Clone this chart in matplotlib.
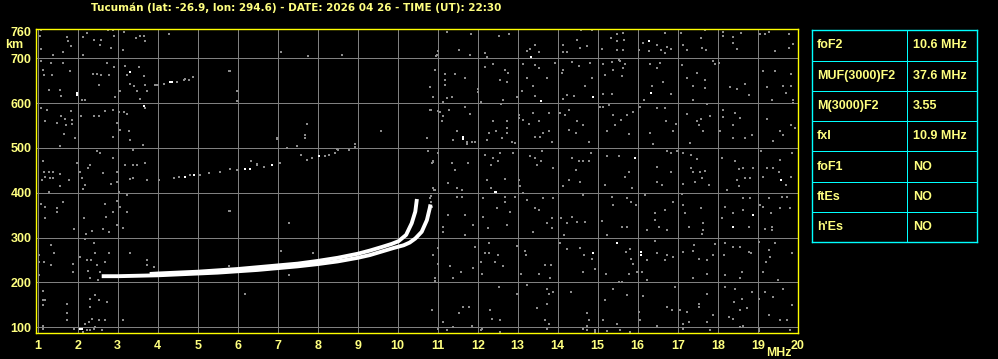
import matplotlib
matplotlib.use("Agg")
import matplotlib.pyplot as plt

# --- header / table text ---
title = "Tucumán (lat: -26.9, lon: 294.6) - DATE: 2026 04 26 - TIME (UT): 22:30"
param_names = ["foF2", "MUF(3000)F2", "M(3000)F2", "fxI", "foF1", "ftEs", "h'Es"]
param_values = ["10.6 MHz", "37.6 MHz", "3.55", "10.9 MHz", "NO", "NO", "NO"]

freq_ticks = list(range(1, 21))
height_ticks = [100, 200, 300, 400, 500, 600, 700, 760]

# --- F2 trace, ordinary and extraordinary (MHz, km) ---
trace_o_freq = [3.8, 4.0, 4.5, 5.0, 5.5, 6.0, 6.5, 7.0, 7.5, 8.0, 8.5, 9.0, 9.3, 9.6,
                9.85, 10.02, 10.21, 10.35, 10.44, 10.48]
trace_o_height = [219, 220, 222, 224, 227, 230, 234, 238, 242, 248, 255, 264, 271, 279,
                  286, 292, 306, 332, 358, 386]
trace_x_freq = [2.6, 3.0, 3.5, 4.0, 4.5, 5.0, 5.5, 6.0, 6.5, 7.0, 7.5, 8.0, 8.5, 9.0,
                9.3, 9.6, 9.9, 10.15, 10.3, 10.44, 10.6, 10.73, 10.8, 10.82]
trace_x_height = [214, 214, 215, 216, 218, 220, 222, 225, 228, 232, 236, 241, 247, 255,
                  261, 269, 277, 283, 289, 298, 313, 339, 365, 374]

# --- multiple-hop echoes ---
echo_2f = [(4.4, 434), (4.52, 436), (4.81, 440), (5.06, 440), (5.27, 445), (5.56, 447),
           (5.81, 453), (5.99, 451), (6.33, 470), (6.48, 462), (6.48, 464), (6.65, 458),
           (7.05, 466), (7.23, 499), (7.48, 505), (7.58, 484), (7.73, 473), (7.85, 478),
           (8.19, 482), (8.29, 484), (8.44, 488), (8.52, 496), (8.79, 496), (8.94, 508),
           (8.94, 501), (7.69, 523), (6.98, 522)]
echo_2f_bright = [(4.69, 436), (4.9, 440), (6.19, 453), (6.3, 453), (6.85, 462), (8.04, 481)]
echo_3f = [(3.96, 641), (4.0, 641), (4.15, 643), (4.48, 648), (4.65, 652), (4.77, 652),
           (4.88, 657), (4.69, 653)]
echo_3f_bright = [(4.31, 648), (4.36, 648)]

# --- background noise (MHz, km) ---
noise_left = [
    (1.08, 762), (1.06, 749), (1.08, 721), (1.38, 706), (1.63, 714), (1.73, 747), (1.75, 739),
    (1.83, 727), (2.13, 706), (2.23, 756), (2.13, 747), (2.41, 741), (2.58, 741), (2.55, 729),
    (2.75, 762), (2.88, 762), (2.83, 723), (2.9, 749), (3.15, 759), (3.13, 719), (3.46, 744),
    (3.55, 749), (3.66, 749), (3.69, 739), (4.27, 753),
    (1.08, 693), (1.13, 674), (1.15, 662), (1.33, 689), (1.35, 662), (1.63, 689), (1.8, 671),
    (1.27, 630), (1.56, 630), (1.58, 615), (2.1, 607), (2.19, 607), (2.38, 665), (2.48, 665),
    (2.58, 662), (2.79, 662), (2.52, 641), (2.73, 689), (2.9, 680), (2.94, 613), (3.05, 626),
    (3.19, 682), (3.23, 662), (3.3, 642), (3.41, 637), (3.52, 680), (3.48, 627), (3.65, 660),
    (3.69, 641), (3.73, 627), (3.55, 610), (3.94, 641),
    (1.08, 590), (1.19, 559), (1.23, 585), (1.58, 572), (1.69, 565), (1.71, 551), (1.83, 583),
    (1.85, 563), (1.85, 553), (1.48, 555), (1.65, 531), (1.55, 505), (1.94, 522), (2.08, 572),
    (2.41, 572), (2.52, 572), (2.69, 583), (2.88, 585), (2.88, 525), (3.02, 580), (3.15, 580),
    (2.98, 555), (3.05, 540), (3.23, 575), (3.27, 537), (3.3, 518), (3.38, 496), (3.63, 507),
    (3.69, 589),
    (1.13, 470), (1.16, 447), (1.27, 447), (1.38, 447), (1.1, 429), (1.19, 436), (1.3, 432),
    (1.38, 432), (1.55, 441), (1.55, 414), (1.27, 402), (1.77, 429), (1.98, 466), (2.05, 447),
    (2.1, 432), (2.19, 417), (2.13, 408), (2.25, 455), (2.3, 461), (2.48, 492), (2.55, 488),
    (2.63, 443), (2.88, 477), (2.83, 419), (2.98, 447), (2.98, 425), (3.19, 462), (3.31, 431),
    (3.38, 432), (3.38, 462), (3.48, 462), (3.69, 466), (3.73, 429), (4.02, 429), (3.02, 402),
    (1.08, 376), (1.19, 369), (1.19, 343), (1.48, 367), (1.63, 379), (1.48, 358), (1.9, 319),
    (2.16, 343), (2.35, 315), (2.21, 307), (2.69, 376), (2.71, 347), (2.63, 319), (2.77, 313),
    (2.88, 356), (2.98, 382), (2.98, 328), (3.06, 369), (3.13, 322), (3.23, 395), (3.23, 356),
    (1.02, 261), (1.02, 245), (1.02, 216), (1.33, 283), (1.41, 265), (1.15, 246), (1.33, 240),
    (1.88, 242), (1.88, 224), (2.06, 257), (2.19, 298), (2.23, 250), (2.33, 250), (2.25, 225),
    (2.4, 287), (2.44, 265), (2.48, 239), (2.56, 224), (2.69, 245), (2.79, 265), (2.31, 209),
    (2.5, 205), (3.31, 265), (3.73, 250), (3.73, 240), (3.9, 235),
    (1.13, 180), (1.13, 160), (1.19, 160), (1.13, 149), (1.73, 153), (1.73, 131), (1.73, 116),
    (1.9, 97), (2.19, 108), (2.27, 112), (2.35, 119), (2.31, 163), (2.31, 145), (2.44, 172),
    (2.52, 160), (2.73, 157), (2.44, 101), (2.3, 93), (2.52, 116), (2.69, 116), (3.13, 116),
    (1.13, 104), (1.13, 97), (2.23, 93), (2.13, 90), (2.4, 96), (2.6, 94),
]
noise_mid = [
    (5.8, 671), (5.98, 626), (5.98, 604), (5.8, 360), (6.19, 175), (5.77, 360), (7.29, 333),
    (9.59, 537), (8.94, 509), (7.69, 529), (7.73, 554), (6.98, 520), (8.48, 497), (7.09, 271),
    (7.88, 266), (7.29, 216), (5.77, 236), (5.77, 226), (7.09, 713), (7.77, 704), (8.62, 708),
    (5.78, 671), (10.73, 523), (10.87, 467), (10.9, 406), (10.84, 393), (10.94, 209),
    (10.98, 708), (11.02, 717), (11.19, 665), (11.19, 652), (10.81, 635), (10.88, 613),
    (11.13, 602), (10.84, 585), (11.06, 581), (10.88, 468), (10.77, 492), (10.84, 380),
]
noise_right = [
    (11.23, 759), (11.54, 718), (11.84, 753), (11.81, 706), (11.02, 717), (10.96, 704),
    (12.19, 712), (12.54, 749), (12.79, 754), (12.23, 702), (13.31, 721), (13.23, 715),
    (13.52, 713), (13.44, 730), (14.14, 730), (14.23, 714), (14.48, 741), (14.59, 762),
    (14.73, 727), (14.85, 762), (14.56, 723), (14.13, 713), (15.33, 744), (15.48, 753),
    (15.48, 738), (15.64, 756), (15.66, 741), (15.49, 718), (15.62, 718), (15.1, 721),
    (16.04, 719), (16.14, 734), (16.28, 715), (16.49, 730), (16.58, 719), (16.69, 756),
    (16.74, 724), (16.83, 721), (16.67, 712), (17.09, 756), (17.14, 729), (17.23, 719),
    (17.58, 745), (17.69, 762), (17.6, 723), (17.7, 719), (18.14, 759), (18.13, 749),
    (18.38, 747), (18.48, 721), (18.59, 757), (18.39, 734), (19.06, 753), (19.29, 758),
    (19.44, 717), (19.79, 755), (19.79, 723), (19.89, 732), (19.19, 754),
    (10.94, 674), (11.17, 665), (11.19, 641), (11.44, 665), (11.69, 656), (11.23, 611),
    (11.35, 613), (10.89, 613), (10.81, 635), (12.02, 631), (12.02, 624), (12.19, 680),
    (12.38, 687), (12.69, 674), (12.77, 667), (12.74, 648), (12.56, 652), (12.98, 613),
    (12.64, 607), (13.13, 686), (13.42, 684), (13.54, 678), (13.23, 656), (13.38, 639),
    (13.1, 626), (13.44, 616), (13.73, 656), (13.94, 689), (14.1, 667), (14.14, 674),
    (14.35, 692), (14.52, 682), (14.69, 637), (14.85, 656), (14.81, 689), (14.23, 619),
    (14.41, 616), (14.14, 610), (15.13, 686), (15.19, 663), (15.35, 692), (15.39, 674),
    (15.56, 693), (15.63, 678), (15.69, 686), (15.6, 660), (15.13, 620), (15.35, 620),
    (15.52, 697), (16.31, 687), (16.35, 637), (16.49, 678), (16.62, 648), (16.56, 689),
    (16.83, 620), (16.16, 607), (17.11, 684), (17.23, 656), (17.38, 637), (17.48, 667),
    (17.69, 652), (17.69, 633), (17.88, 693), (17.94, 686), (17.39, 607), (18.31, 635),
    (18.48, 631), (18.67, 642), (18.79, 617), (18.04, 689), (19.14, 671), (19.44, 671),
    (19.23, 635), (19.64, 637), (19.83, 665), (19.84, 639), (19.71, 622), (19.35, 607),
    (19.89, 607),
    (10.81, 585), (11.02, 583), (11.13, 572), (11.29, 585), (11.1, 559), (11.48, 537),
    (11.73, 514), (11.73, 508), (11.85, 513), (11.94, 514), (11.39, 518), (11.69, 592),
    (11.81, 575), (12.09, 602), (12.59, 598), (12.38, 559), (12.46, 537), (12.29, 533),
    (12.73, 544), (12.74, 533), (12.6, 522), (12.85, 514), (12.23, 518), (12.73, 559),
    (12.94, 511), (13.04, 574), (13.04, 567), (13.14, 563), (13.29, 553), (13.39, 578),
    (13.54, 559), (13.64, 533), (13.56, 525), (13.77, 538), (13.77, 578), (13.44, 525),
    (13.85, 514), (14.06, 578), (14.19, 574), (14.29, 585), (14.46, 533), (14.64, 550),
    (14.79, 514), (14.27, 540), (14.48, 559), (15.06, 592), (15.14, 592), (15.29, 596),
    (15.44, 551), (15.58, 563), (15.74, 574), (15.89, 580), (15.38, 574), (15.79, 531),
    (15.23, 537), (16.06, 592), (16.31, 533), (16.49, 589), (16.69, 589), (16.95, 553),
    (16.89, 537), (16.71, 559), (16.39, 508), (17.23, 575), (17.48, 559), (17.59, 564),
    (17.54, 551), (17.64, 537), (17.81, 572), (17.73, 598), (17.31, 511), (18.14, 585),
    (18.13, 570), (18.37, 551), (18.44, 578), (18.56, 566), (18.85, 529), (18.69, 522),
    (18.06, 537), (18.39, 522), (19.23, 564), (19.56, 538), (19.64, 528), (19.84, 551),
    (19.92, 544), (19.39, 516), (19.89, 600),
    (10.88, 470), (11.02, 488), (11.35, 466), (11.44, 451), (11.27, 421), (11.48, 410),
    (11.77, 466), (11.6, 406), (10.89, 410), (12.19, 484), (12.33, 462), (12.38, 477),
    (12.56, 488), (12.52, 471), (12.23, 429), (12.33, 410), (12.69, 431), (12.88, 488),
    (13.02, 429), (13.06, 414), (13.31, 481), (13.44, 478), (13.48, 462), (13.58, 470),
    (13.6, 492), (13.89, 455), (14.14, 414), (14.27, 429), (14.35, 477), (14.45, 451),
    (14.52, 470), (14.63, 470), (14.77, 471), (14.56, 425), (14.83, 488), (15.23, 483),
    (15.54, 481), (15.79, 447), (15.69, 436), (15.85, 410), (15.19, 417), (16.48, 458),
    (16.73, 493), (16.83, 488), (16.98, 492), (16.83, 447), (16.49, 425), (16.6, 417),
    (17.14, 419), (17.39, 447), (17.14, 488), (17.33, 484), (17.48, 475), (17.33, 455),
    (17.56, 447), (17.69, 449), (17.6, 432), (17.77, 417), (17.44, 425), (18.1, 477),
    (18.44, 470), (18.54, 453), (18.64, 455), (18.81, 432), (18.69, 432), (18.48, 429),
    (18.52, 414), (18.23, 406), (18.89, 456), (19.08, 492), (19.23, 455), (19.12, 436),
    (19.39, 455), (19.52, 447), (19.71, 417), (19.84, 436), (19.85, 488), (19.56, 473),
    (10.94, 406), (10.81, 388), (10.85, 369), (11.14, 324), (11.27, 350), (11.48, 391),
    (11.6, 391), (11.69, 350), (11.88, 328), (11.69, 306), (11.13, 313), (12.13, 388),
    (12.14, 347), (12.27, 321), (12.48, 365), (12.69, 380), (12.81, 358), (12.69, 391),
    (12.73, 328), (12.94, 391), (13.23, 384), (13.44, 365), (13.54, 362), (13.63, 388),
    (13.73, 332), (13.85, 321), (13.85, 343), (13.88, 388), (13.39, 312), (13.14, 399),
    (14.08, 343), (14.23, 332), (14.35, 347), (14.48, 335), (14.67, 335), (14.16, 306),
    (14.63, 395), (15.1, 337), (15.38, 373), (15.35, 391), (15.6, 324), (15.73, 324),
    (15.83, 380), (15.96, 373), (15.23, 306), (15.73, 388), (16.18, 394), (16.43, 354),
    (16.43, 339), (16.52, 324), (16.73, 317), (16.89, 380), (16.69, 362), (16.23, 317),
    (17.14, 373), (17.19, 354), (17.58, 365), (17.64, 332), (17.64, 317), (17.6, 307),
    (17.27, 324), (17.1, 397), (18.1, 343), (18.17, 369), (18.37, 354), (18.63, 388),
    (18.64, 362), (18.77, 324), (18.81, 388), (19.06, 373), (19.14, 369), (19.27, 388),
    (19.33, 354), (19.35, 324), (19.35, 317), (19.6, 391), (19.73, 391), (19.56, 365),
    (19.81, 367), (19.19, 319),
    (11.02, 277), (10.89, 261), (11.02, 242), (11.31, 237), (11.58, 224), (11.38, 209),
    (10.94, 209), (10.94, 203), (11.94, 280), (11.89, 233), (12.08, 245), (12.19, 266),
    (12.29, 289), (12.29, 266), (12.52, 262), (12.44, 245), (12.63, 237), (12.1, 220),
    (12.98, 282), (13.08, 220), (13.17, 270), (13.21, 262), (13.69, 240), (13.83, 240),
    (13.52, 220), (13.81, 209), (14.06, 289), (14.23, 274), (14.56, 276), (14.62, 224),
    (14.85, 253), (14.94, 231), (14.66, 261), (15.2, 218), (15.71, 268), (15.81, 274),
    (15.83, 253), (15.77, 218), (15.89, 242), (15.98, 224), (15.54, 201), (16.23, 250),
    (16.44, 292), (16.48, 265), (16.73, 261), (16.89, 257), (16.69, 250), (16.23, 205),
    (16.1, 224), (17.14, 268), (17.41, 283), (17.38, 270), (17.53, 253), (17.74, 250),
    (17.89, 261), (17.94, 285), (17.73, 220), (17.38, 209), (18.17, 287), (18.16, 261),
    (18.39, 280), (18.56, 280), (18.77, 268), (18.83, 265), (18.6, 224), (18.56, 209),
    (18.19, 216), (19.02, 291), (19.29, 272), (19.21, 246), (19.14, 224), (19.31, 257),
    (19.44, 287), (19.85, 265), (19.5, 205),
    (10.85, 138), (11.13, 112), (11.54, 131), (11.63, 145), (11.79, 145), (11.39, 101),
    (11.85, 104), (12.31, 138), (12.35, 119), (12.56, 116), (12.54, 190), (12.98, 175),
    (12.1, 96), (13.23, 194), (13.48, 142), (13.73, 186), (13.77, 175), (13.73, 153),
    (13.69, 116), (13.77, 108), (13.88, 179), (14.34, 179), (14.73, 131), (14.77, 116),
    (14.73, 104), (14.64, 97), (15.19, 162), (15.38, 186), (15.14, 116), (15.48, 108),
    (15.6, 201), (15.73, 172), (16.02, 134), (16.14, 170), (16.06, 116), (16.73, 145),
    (16.85, 138), (16.93, 190), (16.48, 104), (17.06, 138), (17.23, 134), (17.27, 112),
    (17.52, 153), (17.52, 145), (17.73, 175), (17.73, 112), (17.89, 127), (17.14, 108),
    (18.19, 190), (18.44, 186), (18.27, 123), (18.41, 157), (18.56, 138), (18.6, 164),
    (18.73, 142), (18.85, 179), (18.64, 104), (18.39, 119), (19.04, 164), (19.19, 179),
    (19.39, 168), (19.64, 186), (19.85, 149), (19.73, 116), (19.56, 116), (19.27, 127),
    (11.02, 96), (11.23, 93), (12.08, 93), (12.56, 90), (13.73, 96), (14.73, 93),
    (14.94, 95), (14.94, 89), (15.23, 91), (15.56, 93), (15.81, 90), (17.14, 96),
    (17.81, 93), (18.56, 101), (19.02, 97), (19.02, 91), (19.81, 93),
]
noise_bright = [
    (1.98, 622), (1.98, 617), (3.3, 669), (3.65, 594), (2.06, 97), (2.1, 97),
    (13.34, 703), (16.28, 739), (13.58, 604), (14.88, 613), (16.33, 622), (11.63, 525),
    (11.63, 520), (12.46, 401), (15.94, 478), (19.58, 429), (12.44, 402), (18.39, 324),
    (18.89, 350), (14.88, 266), (15.48, 288), (16.08, 268), (16.08, 262),
]

BG = "black"
GRID = "#808080"
NOISE = "#8c8c8c"
FRAME = "#ffff00"
LABEL = "#ffff80"
CYAN = "#00ffff"
FONT = "Liberation Sans"

fig = plt.figure(figsize=(9.98, 3.59), dpi=100, facecolor=BG)
ax = fig.add_axes([35.7 / 998, 25.7 / 359, 762.0 / 998, 304.0 / 359])
ax.set_facecolor(BG)
ax.set_xlim(0.95, 20.0)
ax.set_ylim(86.7, 764.4)

for f in freq_ticks:
    ax.axvline(f, color=GRID, lw=0.72, zorder=1, antialiased=False)
for h in height_ticks[:-1]:
    ax.axhline(h, color=GRID, lw=0.72, zorder=1, antialiased=False)


def dots(points, color, size, z):
    ax.plot([p[0] for p in points], [p[1] for p in points], "s", ms=size, mew=0,
            color=color, zorder=z, antialiased=False)


dots(noise_left, NOISE, 1.5, 2)
dots(noise_mid, NOISE, 1.5, 2)
dots(noise_right, NOISE, 1.5, 2)
dots(echo_2f, NOISE, 1.6, 3)
dots(echo_3f, NOISE, 1.6, 3)
dots(noise_bright, "white", 1.5, 3)
dots(echo_2f_bright, "white", 1.8, 3)
dots(echo_3f_bright, "white", 1.8, 3)

ax.plot(trace_x_freq, trace_x_height, color="white", lw=2.8, solid_capstyle="butt", zorder=4)
ax.plot(trace_o_freq, trace_o_height, color="white", lw=2.8, solid_capstyle="butt", zorder=4)

for s in ax.spines.values():
    s.set_color(FRAME)
    s.set_linewidth(1.0)

ax.set_xticks(freq_ticks)
ax.set_xticklabels([str(f) for f in freq_ticks])
ax.set_yticks(height_ticks)
ax.set_yticklabels([str(h) for h in height_ticks])
ax.tick_params(length=0, colors=LABEL, labelsize=9, pad=5)
ax.tick_params(axis="y", pad=3)
for lab in ax.get_xticklabels() + ax.get_yticklabels():
    lab.set_fontfamily(FONT)
    lab.set_fontweight("bold")

fig.text(91 / 998, 1 - 7.5 / 359, title, color=LABEL, fontsize=7.45, fontweight="bold",
         family="DejaVu Sans", ha="left", va="center")
fig.text(5 / 998, 1 - 45 / 359, "km", color=LABEL, fontsize=9, fontweight="bold",
         family=FONT, ha="left", va="center")
fig.text(766 / 998, 1 - 353 / 359, "MHz", color=LABEL, fontsize=8.8, fontweight="bold",
         family=FONT, ha="left", va="center")

# parameter table
tx = fig.add_axes([812.3 / 998, (359 - 242.3) / 359, 165.0 / 998, 212.0 / 359])
tx.set_facecolor(BG)
tx.set_xlim(812.3, 977.3)
tx.set_ylim(len(param_names), 0)
tx.set_xticks([])
tx.set_yticks([])
for s in tx.spines.values():
    s.set_color(CYAN)
    s.set_linewidth(1.0)
for i in range(1, len(param_names)):
    tx.axhline(i, color=CYAN, lw=0.72, antialiased=False)
tx.axvline(907.3, color=CYAN, lw=0.72, antialiased=False)
for i, (name, val) in enumerate(zip(param_names, param_values)):
    tx.text(817, i + 0.5, name, color=LABEL, fontsize=9, fontweight="bold", family=FONT,
            ha="left", va="center")
    tx.text(913, i + 0.5, val, color=LABEL, fontsize=9, fontweight="bold", family=FONT,
            ha="left", va="center")

fig.savefig("out.png", dpi=100, facecolor=BG)
